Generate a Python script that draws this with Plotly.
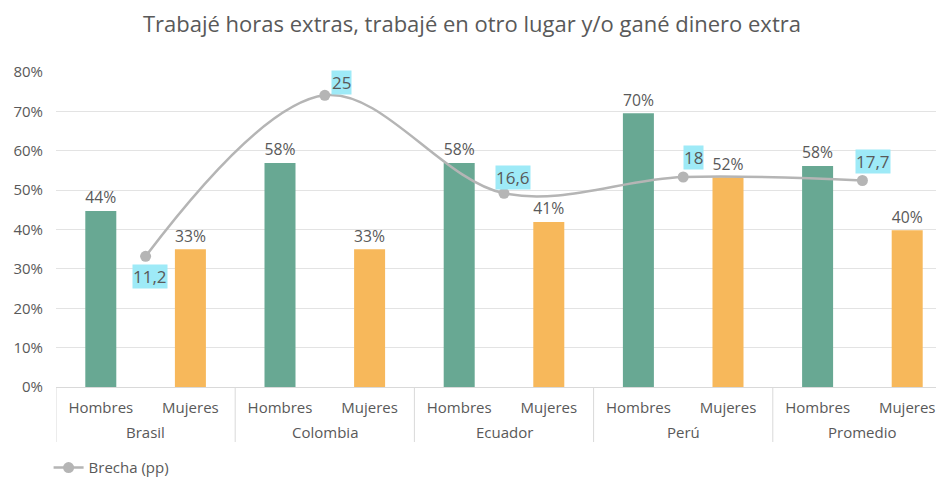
import plotly.graph_objects as go

# ---- data ----
countries = ["Brasil", "Colombia", "Ecuador", "Perú", "Promedio"]
genders = ["Hombres", "Mujeres"]
hombres_vals = [44.7, 56.9, 56.9, 69.5, 56.1]
mujeres_vals = [35.0, 35.0, 41.9, 53.3, 39.8]
hombres_labels = ["44%", "58%", "58%", "70%", "58%"]
mujeres_labels = ["33%", "33%", "41%", "52%", "40%"]
brecha_vals = [11.2, 25, 16.6, 18, 17.7]
brecha_labels = ["11,2", "25", "16,6", "18", "17,7"]
y_ticks = [0, 10, 20, 30, 40, 50, 60, 70, 80]
y_ticklabels = ["0%", "10%", "20%", "30%", "40%", "50%", "60%", "70%", "80%"]

GREEN = "#68A893"
ORANGE = "#F7B85B"
GRAY_TXT = "#595959"
DIV = "#D9D9D9"
FONT = "Open Sans"

# build bar sequence (one slot per country/gender pair)
slot, gender_txt, vals, texts, colors = [], [], [], [], []
for i, c in enumerate(countries):
    for j, (g, v, t, col) in enumerate(((genders[0], hombres_vals[i], hombres_labels[i], GREEN),
                                        (genders[1], mujeres_vals[i], mujeres_labels[i], ORANGE))):
        slot.append(len(genders) * i + j)
        gender_txt.append(g)
        vals.append(v)
        texts.append(t)
        colors.append(col)

n_slots = len(slot)
fig = go.Figure()
fig.add_trace(go.Bar(
    x=slot, y=vals, text=texts, textposition="outside", width=0.346,
    textfont=dict(size=17, color=GRAY_TXT, family=FONT),
    marker=dict(color=colors, line=dict(width=0)),
    showlegend=False, cliponaxis=False, hoverinfo="skip",
))
fig.add_trace(go.Scatter(
    x=countries, y=brecha_vals, xaxis="x2", yaxis="y2",
    mode="lines+markers", name="Brecha (pp)",
    line=dict(color="#B5B5B5", width=2.5, shape="spline", smoothing=1.0),
    marker=dict(size=11, color="#B5B5B5"),
    cliponaxis=False,
))

# labels for the gap series
offsets = [(4, -20), (17, 13), (9, 16), (10, 20), (11, 19)]
for c, v, t, (dx, dy) in zip(countries, brecha_vals, brecha_labels, offsets):
    fig.add_annotation(x=c, y=v, xref="x2", yref="y2", text=t, showarrow=False,
                       xshift=dx, yshift=dy, bgcolor="#9EEAF7",
                       font=dict(size=17, color=GRAY_TXT, family=FONT),
                       borderpad=0)

# country (group) labels under the gender labels
for c in countries:
    fig.add_annotation(x=c, y=0, xref="x2", yref="paper", yshift=-45,
                       text=c, showarrow=False, yanchor="middle",
                       font=dict(size=15, color=GRAY_TXT, family=FONT))

# group dividers of the category axis
plot_h = 481 - 64 - 102
for k in range(len(countries) + 1):
    xb = len(genders) * k - 0.5
    fig.add_shape(type="line", xref="x", yref="paper", x0=xb, x1=xb,
                  y0=0, y1=-55 / plot_h, line=dict(color=DIV, width=1))

fig.update_layout(
    width=944, height=481,
    margin=dict(l=48, r=0, t=64, b=102),
    paper_bgcolor="white", plot_bgcolor="white",
    title=dict(text="Trabajé horas extras, trabajé en otro lugar y/o gané dinero extra",
               x=0.4915, xanchor="center", xref="container", y=0.967, yanchor="middle",
               font=dict(size=22, color=GRAY_TXT, family=FONT)),
    font=dict(family=FONT, color=GRAY_TXT),
    xaxis=dict(range=[-0.5, n_slots - 0.5], tickvals=slot, ticktext=gender_txt,
               showgrid=False, zeroline=False,
               showline=True, linecolor=DIV, linewidth=1, automargin=False,
               ticks="", ticklabelstandoff=7,
               tickfont=dict(size=15, color=GRAY_TXT, family=FONT)),
    xaxis2=dict(type="category", overlaying="x", range=[-0.5, len(countries) - 0.5],
                visible=False, showgrid=False),
    yaxis=dict(range=[0, 80], tickvals=y_ticks, ticktext=y_ticklabels,
               showgrid=True, gridcolor="#E3E3E3", gridwidth=1, zeroline=False,
               showline=False, ticks="", ticklabelstandoff=12, automargin=False,
               tickfont=dict(size=15, color=GRAY_TXT, family=FONT)),
    yaxis2=dict(range=[0, 27], overlaying="y", side="right", visible=False,
                showgrid=False),
    showlegend=True,
    legend=dict(orientation="h", xref="container", x=0.043, xanchor="left",
                yref="container", y=0.044, yanchor="middle",
                font=dict(size=15, color=GRAY_TXT, family=FONT),
                bgcolor="rgba(0,0,0,0)"),
)

fig.write_html("out.html")
